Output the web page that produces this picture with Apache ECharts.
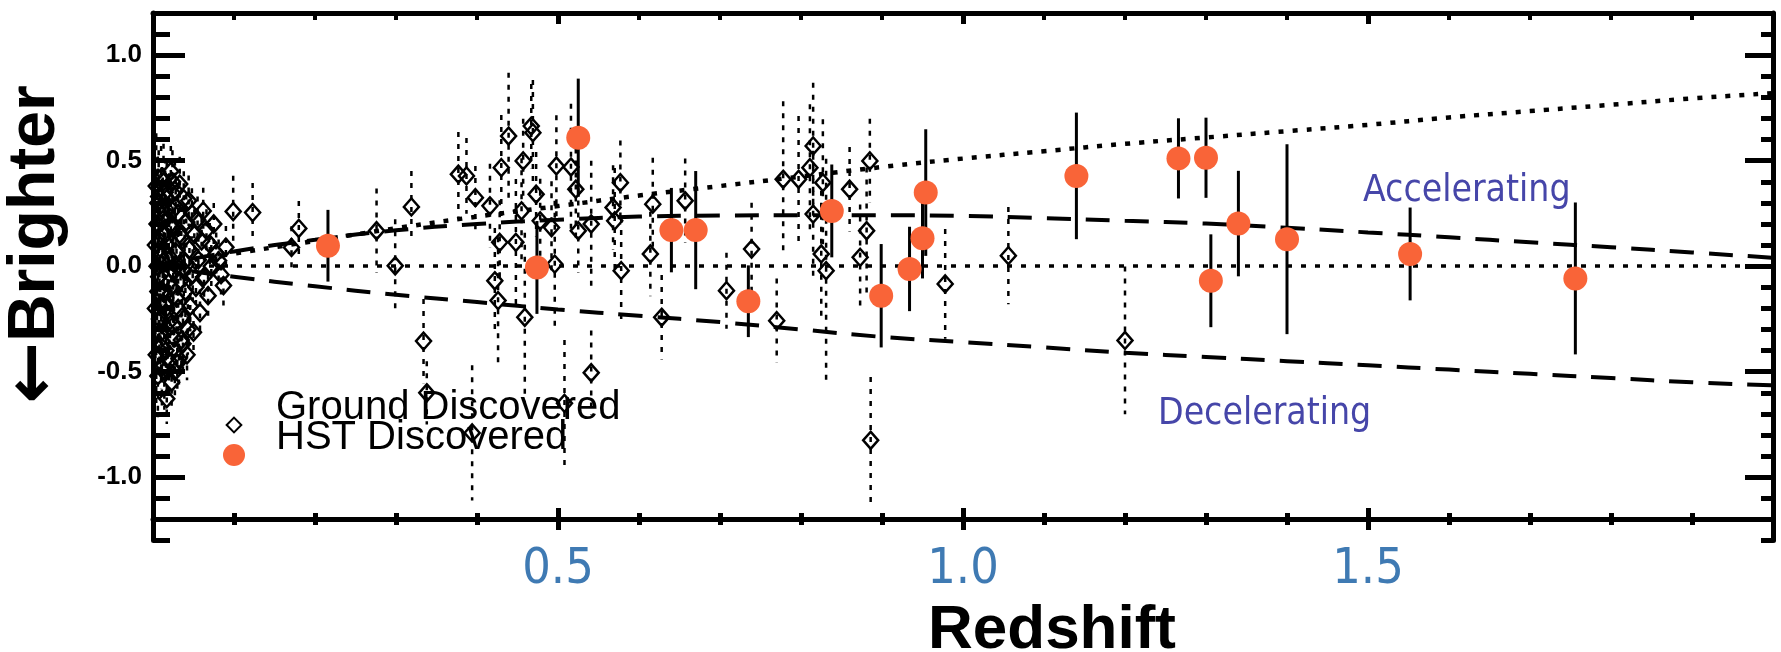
<!DOCTYPE html>
<html lang="en" style="height: 100%">
<head>
    <meta charset="UTF-8">
    <title>Redshift vs Brighter</title>
    <script src="https://cdn.jsdelivr.net/npm/echarts@6.0.0/dist/echarts.min.js"></script>
</head>
<body style="height: 100%; margin: 0; background: #fff">
<div id="container" style="width: 1781px; height: 652px"></div>

<script type="text/javascript">
    // model curves, sampled every 0.1 in redshift
    var curveZ = [0, 0.1, 0.2, 0.3, 0.4, 0.5, 0.6, 0.7, 0.8, 0.9, 1.0, 1.1, 1.2, 1.3, 1.4, 1.5, 1.6, 1.7, 1.8, 1.9, 2.0];
    var upperCurve = [0, 0.06, 0.12, 0.18, 0.235, 0.285, 0.335, 0.38, 0.425, 0.47, 0.51, 0.545, 0.58, 0.61, 0.64, 0.67, 0.705, 0.735, 0.765, 0.795, 0.82];
    var acceleratingCurve = [0, 0.07, 0.125, 0.17, 0.2, 0.22, 0.235, 0.24, 0.242, 0.242, 0.238, 0.228, 0.215, 0.202, 0.182, 0.16, 0.137, 0.113, 0.09, 0.065, 0.04];
    var deceleratingCurve = [0, -0.05, -0.095, -0.135, -0.17, -0.205, -0.235, -0.265, -0.3, -0.335, -0.36, -0.385, -0.41, -0.43, -0.45, -0.47, -0.49, -0.51, -0.53, -0.55, -0.565];

    // ground discovered supernovae (the low-z crowd first)
    var groundZ = [0.003, 0.003, 0.004, 0.004, 0.005, 0.005, 0.006, 0.006, 0.007, 0.008, 0.009, 0.010, 0.011, 0.012,
        0.013, 0.014, 0.015, 0.016, 0.017, 0.018, 0.019, 0.020, 0.022, 0.023, 0.024, 0.025, 0.027, 0.028, 0.029,
        0.031, 0.033, 0.035, 0.038, 0.042,
        0.006, 0.007, 0.008, 0.009, 0.010, 0.011, 0.012, 0.013, 0.014, 0.015, 0.016, 0.017, 0.018, 0.019, 0.020,
        0.021, 0.022, 0.023, 0.024, 0.025, 0.026, 0.027, 0.028, 0.029, 0.030, 0.031, 0.032, 0.033, 0.034, 0.035,
        0.036, 0.037, 0.038, 0.039, 0.040, 0.041, 0.043, 0.044, 0.045, 0.046, 0.048, 0.049, 0.050, 0.051, 0.053,
        0.055, 0.056, 0.058, 0.060, 0.062, 0.063, 0.066, 0.068, 0.070, 0.072, 0.075, 0.078, 0.081, 0.084, 0.087, 0.090,
        0.099, 0.123, 0.171, 0.18, 0.276, 0.299, 0.319, 0.334, 0.338, 0.377, 0.387, 0.394, 0.398, 0.416, 0.422,
        0.426, 0.428, 0.43, 0.439, 0.448, 0.455, 0.457, 0.459, 0.467, 0.469, 0.473, 0.478, 0.492, 0.496, 0.498,
        0.508, 0.516, 0.522, 0.525, 0.541, 0.541, 0.568, 0.57, 0.577, 0.578, 0.614, 0.617, 0.628, 0.657, 0.708,
        0.739, 0.77, 0.778, 0.797, 0.811, 0.815, 0.815, 0.825, 0.827, 0.831, 0.86, 0.873, 0.881, 0.885, 0.886,
        0.978, 1.056, 1.2];
    var groundMag = [0.10, -0.20, 0.38, -0.42, 0.00, 0.20, -0.12, -0.52, 0.33, -0.25, 0.05, -0.38, 0.27, -0.12,
        0.40, -0.50, 0.15, -0.22, 0.32, -0.30, 0.05, -0.45, 0.20, -0.10, 0.40, -0.28, -0.50, 0.28, 0.00,
        -0.20, 0.15, -0.35, -0.02, -0.42,
        0.30, -0.05, 0.12, -0.32, 0.42, -0.48, 0.22, 0.02, -0.18, 0.35, -0.40, -0.628, 0.10, -0.08, 0.28,
        -0.26, 0.45, -0.55, 0.18, -0.02, -0.34, 0.36, 0.07, -0.15, -0.46, 0.25, -0.439, 0.389, -0.07, 0.14,
        -0.24, -0.368, 0.32, 0.02, -0.12, 0.21, -0.30, 0.31, 0.08, -0.19, 0.25, -0.04, -0.313, 0.15, -0.10,
        0.22, 0.03, -0.22, 0.12, 0.262, -0.05, 0.17, -0.14, 0.105, 0.0, 0.20, 0.06, 0.026, -0.04, -0.092, 0.09,
        0.259, 0.254, 0.089, 0.179, 0.168, 0.002, 0.281, -0.355, -0.60, 0.436, 0.428, -0.79, 0.325, 0.286, -0.069,
        -0.163, 0.113, 0.467, 0.617, 0.113, 0.262, 0.499, -0.242, 0.664, 0.633, 0.341, 0.215, 0.183, 0.01, 0.475,
        -0.65, 0.47, 0.365, 0.168, 0.2, -0.505, 0.278, 0.215, 0.396, -0.021, 0.058, 0.294, -0.242, 0.31, -0.116,
        0.081, -0.258, 0.412, 0.412, 0.467, 0.57, 0.247, 0.058, 0.396, -0.021, 0.365, 0.042, 0.168, 0.499, -0.825,
        -0.084, 0.05, -0.352];
    var groundErr = [0.3, 0.3, 0.25, 0.25, 0.28, 0.25, 0.25, 0.2, 0.22, 0.22, 0.22, 0.2, 0.2, 0.2,
        0.18, 0.18, 0.18, 0.18, 0.17, 0.17, 0.17, 0.16, 0.16, 0.16, 0.15, 0.15, 0.14, 0.14, 0.14,
        0.14, 0.13, 0.13, 0.13, 0.12,
        0.22, 0.25, 0.22, 0.22, 0.15, 0.18, 0.2, 0.2, 0.2, 0.16, 0.17, 0.12, 0.18, 0.18, 0.16,
        0.17, 0.12, 0.14, 0.16, 0.16, 0.15, 0.14, 0.15, 0.15, 0.13, 0.14, 0.13, 0.13, 0.14, 0.14,
        0.14, 0.12, 0.13, 0.13, 0.13, 0.13, 0.12, 0.12, 0.12, 0.12, 0.12, 0.12, 0.11, 0.12, 0.11,
        0.11, 0.11, 0.11, 0.11, 0.11, 0.1, 0.1, 0.1, 0.1, 0.1, 0.1, 0.1, 0.1, 0.1, 0.1, 0.1,
        0.17, 0.14, 0.1, 0.13, 0.2, 0.22, 0.17, 0.2, 0.15, 0.2, 0.18, 0.32, 0.15, 0.2, 0.25,
        0.3, 0.2, 0.25, 0.3, 0.3, 0.25, 0.2, 0.4, 0.2, 0.25, 0.2, 0.2, 0.22, 0.3, 0.24,
        0.3, 0.3, 0.25, 0.2, 0.3, 0.2, 0.2, 0.25, 0.2, 0.25, 0.2, 0.22, 0.2, 0.2, 0.18,
        0.22, 0.2, 0.37, 0.3, 0.3, 0.3, 0.3, 0.3, 0.3, 0.53, 0.2, 0.25, 0.3, 0.2, 0.3,
        0.26, 0.23, 0.35];

    // HST discovered supernovae
    var hstZ = [0.216, 0.474, 0.525, 0.64, 0.67, 0.735, 0.838, 0.899, 0.934, 0.95, 0.954, 1.14, 1.266, 1.30, 1.306, 1.34, 1.40, 1.552, 1.756];
    var hstMag = [0.097, -0.006, 0.609, 0.171, 0.171, -0.166, 0.262, -0.14, -0.013, 0.132, 0.349, 0.428, 0.511, 0.514, -0.069, 0.202, 0.128, 0.058, -0.058];
    var hstErr = [0.17, 0.22, 0.28, 0.2, 0.28, 0.17, 0.22, 0.245, 0.2, 0.19, 0.3, 0.3, 0.19, 0.19, 0.22, 0.25, 0.45, 0.22, 0.36];

    var xTickLabels = [0.5, 1.0, 1.5];
    var yTickLabels = [-1.0, -0.5, 0.0, 0.5, 1.0];

    function pairs(xs, ys) {
        return xs.map(function (x, i) { return [x, ys[i]]; });
    }
    function errRows(xs, ys, es) {
        return xs.map(function (x, i) { return [x, ys[i] - es[i], ys[i] + es[i]]; });
    }
    function errorBar(width, dash) {
        return function (params, api) {
            var top = api.coord([api.value(0), api.value(2)]);
            var bottom = api.coord([api.value(0), api.value(1)]);
            return {
                type: 'line',
                shape: {x1: top[0], y1: top[1], x2: bottom[0], y2: bottom[1]},
                style: {stroke: '#000', lineWidth: width, lineDash: dash}
            };
        };
    }

    var frameLine = {color: '#000', width: 5};
    var condensed = "'DejaVu Sans Condensed', 'Noto Sans', 'DejaVu Sans', sans-serif";

    // helper for the extra tick-only axes
    function tickAxis(pos, isX, opts) {
        var a = {
            type: 'value',
            position: pos,
            min: isX ? 0 : -1.3,
            max: isX ? 2 : 1.2,
            axisLine: {show: false, onZero: false},
            splitLine: {show: false},
            axisLabel: {show: false},
            axisTick: {show: true, inside: opts.inside, length: opts.length, lineStyle: {color: '#000', width: opts.width || 5}}
        };
        if (opts.major) {
            a.axisTick.customValues = isX ? xTickLabels : yTickLabels;
        } else {
            a.interval = 0.1;
        }
        if (opts.offset) a.offset = opts.offset;
        if (opts.line) a.axisLine = {show: true, onZero: false, lineStyle: frameLine};
        return a;
    }

    var dom = document.getElementById('container');
    var myChart = echarts.init(dom, null, {renderer: 'canvas'});

    var xBottom = tickAxis('bottom', true, {major: true, inside: false, length: 11, offset: -21.5, line: true});
    xBottom.axisLabel = {
        show: true,
        customValues: xTickLabels,
        formatter: function (v) { return v.toFixed(1); },
        margin: 26,
        color: '#3f7ab3',
        fontSize: 50,
        fontFamily: condensed
    };
    xBottom.name = 'Redshift';
    xBottom.nameLocation = 'middle';
    xBottom.nameGap = 72;
    xBottom.nameTextStyle = {
        fontSize: 62, fontWeight: 'bold', color: '#000',
        fontFamily: "'Liberation Sans', Arial, sans-serif",
        padding: [0, 0, 0, 178]
    };

    var yLeft = tickAxis('left', false, {major: true, inside: true, length: 32, line: true});
    yLeft.axisLabel = {
        show: true,
        customValues: yTickLabels,
        formatter: function (v) { return v.toFixed(1); },
        margin: 11,
        color: '#000',
        fontSize: 26,
        fontWeight: 'bold',
        fontFamily: "'Liberation Sans Narrow', 'Liberation Sans', Arial, sans-serif"
    };
    yLeft.name = '{arrow|\u2190}{word|Brighter}';
    yLeft.nameLocation = 'middle';
    yLeft.nameGap = 80;
    yLeft.nameTextStyle = {
        color: '#000',
        padding: [0, 0, 0, 64],
        rich: {
            arrow: {fontSize: 74, fontWeight: 'bold', color: '#000', fontFamily: "'DejaVu Sans', sans-serif"},
            word: {fontSize: 66, fontWeight: 'bold', color: '#000', fontFamily: "'Liberation Sans', Arial, sans-serif"}
        }
    };

    var option = {
        animation: false,
        backgroundColor: '#fff',
        grid: {left: 153, right: 8, top: 13, bottom: 111.5, outerBoundsMode: 'none', containLabel: false},
        xAxis: [
            xBottom,
            tickAxis('bottom', true, {major: true, inside: true, length: 11, offset: -21.5}),
            tickAxis('bottom', true, {inside: false, length: 6, offset: -21.5}),
            tickAxis('bottom', true, {inside: true, length: 6, offset: -21.5}),
            tickAxis('top', true, {inside: true, length: 7, width: 4, line: true}),
            tickAxis('top', true, {major: true, inside: true, length: 11})
        ],
        yAxis: [
            yLeft,
            tickAxis('left', false, {inside: true, length: 17}),
            tickAxis('right', false, {major: true, inside: true, length: 28, line: true}),
            tickAxis('right', false, {inside: true, length: 12})
        ],
        legend: {
            orient: 'vertical',
            left: 217,
            top: 383,
            itemWidth: 22,
            itemHeight: 22,
            itemGap: -44,
            selectedMode: false,
            data: [
                {name: 'Ground Discovered', icon: 'path://M0,0 M30,30 M5,15 L15,5 L25,15 L15,25 Z'},
                {name: 'HST Discovered', icon: 'circle'}
            ],
            formatter: function (name) { return '{t|' + name + '}'; },
            textStyle: {
                color: '#000',
                rich: {
                    t: {
                        fontSize: 40, color: '#000', lineHeight: 34,
                        fontFamily: "'Liberation Sans', Arial, sans-serif",
                        padding: [0, 0, 34, 26]
                    }
                }
            }
        },
        graphic: [
            {type: 'text', left: 1363, top: 173, z: 100,
                style: {text: 'Accelerating', font: '37px ' + condensed, fill: '#4646a9'}},
            {type: 'text', left: 1158, top: 396, z: 100,
                style: {text: 'Decelerating', font: '37px ' + condensed, fill: '#4646a9'}}
        ],
        series: [
            {
                name: 'upper model', type: 'line', data: pairs(curveZ, upperCurve),
                symbol: 'none', smooth: true, silent: true, z: 2,
                lineStyle: {color: '#000', width: 4.5, type: [5, 9]},
                markLine: {
                    silent: true, symbol: 'none', label: {show: false},
                    lineStyle: {color: '#000', width: 3.5, type: [5, 9]},
                    data: [{yAxis: 0}]
                }
            },
            {
                name: 'accelerating model', type: 'line', data: pairs(curveZ, acceleratingCurve),
                symbol: 'none', smooth: true, silent: true, z: 2,
                lineStyle: {color: '#000', width: 4, type: [24, 15]}
            },
            {
                name: 'decelerating model', type: 'line', data: pairs(curveZ, deceleratingCurve),
                symbol: 'none', smooth: true, silent: true, z: 2,
                lineStyle: {color: '#000', width: 4, type: [24, 15]}
            },
            {
                name: 'ground errors', type: 'custom', z: 3, silent: true,
                renderItem: errorBar(2.5, [5, 7]),
                encode: {x: 0, y: [1, 2]},
                data: errRows(groundZ, groundMag, groundErr)
            },
            {
                name: 'Ground Discovered', type: 'scatter', z: 4,
                symbol: 'diamond', symbolSize: [15, 17],
                itemStyle: {color: 'rgba(0,0,0,0)', borderColor: '#000', borderWidth: 2.5, opacity: 1},
                data: pairs(groundZ, groundMag)
            },
            {
                name: 'hst errors', type: 'custom', z: 5, silent: true,
                renderItem: errorBar(3, null),
                encode: {x: 0, y: [1, 2]},
                data: errRows(hstZ, hstMag, hstErr)
            },
            {
                name: 'HST Discovered', type: 'scatter', z: 6,
                symbol: 'circle', symbolSize: 24,
                itemStyle: {color: '#f96438', opacity: 1},
                data: pairs(hstZ, hstMag)
            }
        ]
    };
    myChart.setOption(option, true);
</script>
</body>
</html>
